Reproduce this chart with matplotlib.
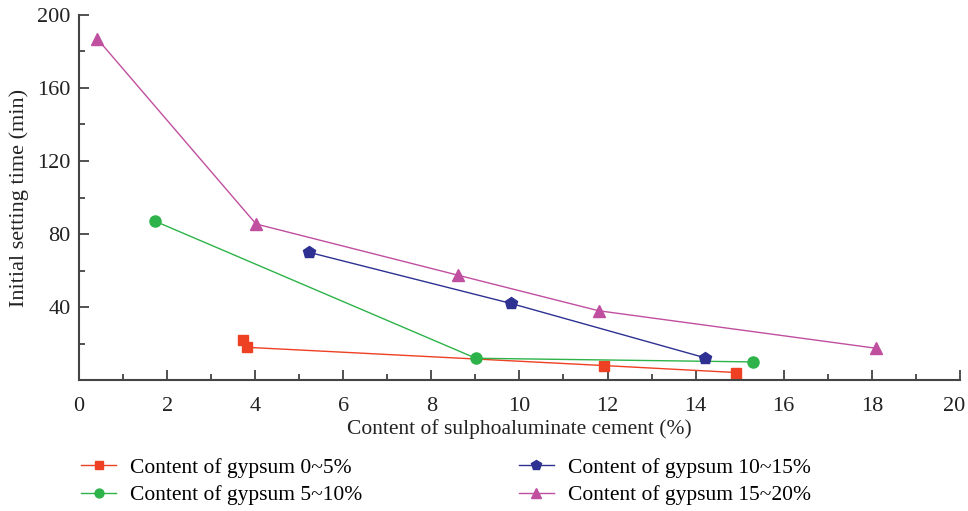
import numpy as np
import matplotlib.pyplot as plt
from matplotlib.ticker import MultipleLocator
from matplotlib.transforms import ScaledTranslation

plt.rcParams['font.family'] = ['Liberation Serif', 'DejaVu Serif']

# data
x_g1 = [3.72, 3.81, 11.92, 14.91]
y_g1 = [22.0, 18.0, 8.0, 4.2]
x_g2 = [1.73, 9.01, 15.3]
y_g2 = [87.0, 12.0, 10.0]
x_g3 = [5.22, 9.81, 14.21]
y_g3 = [70.0, 42.0, 12.3]
x_g4 = [0.41, 4.02, 8.6, 11.8, 18.09]
y_g4 = [187.0, 85.5, 57.5, 38.0, 17.5]

labels = ["Content of gypsum 0~5%", "Content of gypsum 5~10%",
          "Content of gypsum 10~15%", "Content of gypsum 15~20%"]

fig = plt.figure(figsize=(9.68, 5.11), dpi=100)
ax = fig.add_axes([0.0816, 0.256, 0.910, 0.715])

h1, = ax.plot(x_g1, y_g1, color='#EE4023', marker='s', ms=7, lw=1, label=labels[0])
h2, = ax.plot(x_g2, y_g2, color='#2DB34A', marker='o', ms=8, lw=1, label=labels[1])
h3, = ax.plot(x_g3, y_g3, color='#2E3192', marker='p', ms=9, lw=1, label=labels[2])
h4, = ax.plot(x_g4, y_g4, color='#C04FA0', marker='^', ms=9, lw=1, label=labels[3])

ax.set_xlim(0, 20)
ax.set_ylim(0, 200)
ax.set_xticks(np.arange(0, 21, 2))
ax.set_yticks([40, 80, 120, 160, 200])
ax.xaxis.set_minor_locator(MultipleLocator(1))
ax.yaxis.set_minor_locator(MultipleLocator(20))
ax.tick_params(which='both', direction='in', colors='#333333', labelcolor='#222222', labelsize=16)
ax.tick_params(which='major', length=7, width=1.2)
ax.tick_params(which='minor', length=4, width=1.2)
ax.tick_params(axis='x', pad=12)
ax.tick_params(axis='y', pad=6)
for s in ['top', 'right']:
    ax.spines[s].set_visible(False)
for s in ['left', 'bottom']:
    ax.spines[s].set_linewidth(1.5)
    ax.spines[s].set_color('#444444')

ax.set_xlabel("Content of sulphoaluminate cement (%)", fontsize=15.5, color='#222222', labelpad=2)
ax.set_ylabel("Initial setting time (min)", fontsize=16, color='#222222', labelpad=6)

fig.legend(handles=[h1, h2, h3, h4], loc='lower left', bbox_to_anchor=(0.064, -0.027),
           ncol=2, frameon=False, fontsize=15.5, columnspacing=7.3, handlelength=1.6,
           markerscale=0.8, labelspacing=0.35, handletextpad=0.65)

# nudge the last x tick label so it stays inside the figure
fig.canvas.draw()
last = ax.xaxis.get_major_ticks()[-1].label1
last.set_transform(last.get_transform() + ScaledTranslation(-4 / 72, 0, fig.dpi_scale_trans))

fig.savefig('out.png', dpi=100)
